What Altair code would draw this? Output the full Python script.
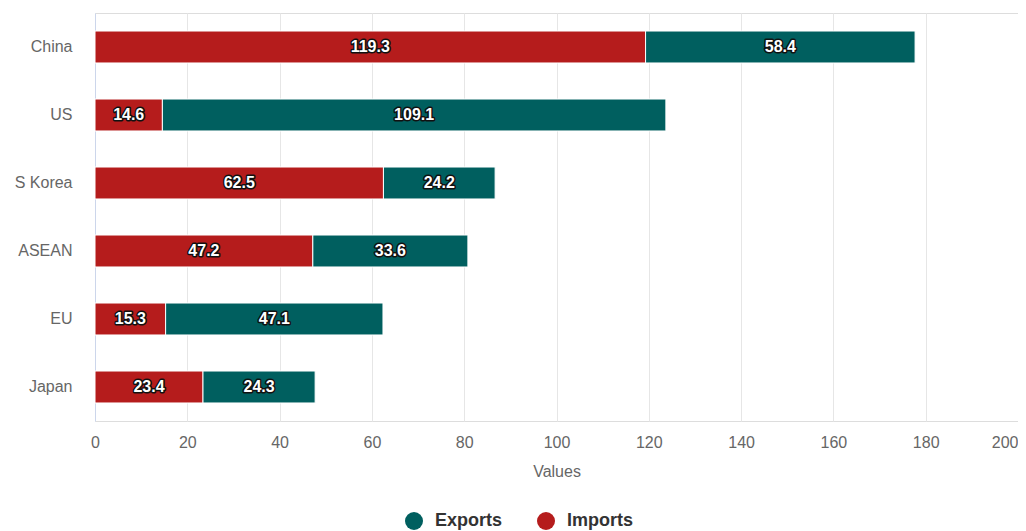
import altair as alt
import pandas as pd

countries = ["China", "US", "S Korea", "ASEAN", "EU", "Japan"]
imports = [119.3, 14.6, 62.5, 47.2, 15.3, 23.4]
exports = [58.4, 109.1, 24.2, 33.6, 47.1, 24.3]
legend_order = ["Exports", "Imports"]
colors = ["#005f5f", "#b51c1c"]
x_ticks = [0, 20, 40, 60, 80, 100, 120, 140, 160, 180, 200]

rows = []
for c, im, ex in zip(countries, imports, exports):
    rows.append({"country": c, "series": "Imports", "value": im, "ord": 0})
    rows.append({"country": c, "series": "Exports", "value": ex, "ord": 1})
df = pd.DataFrame(rows)

FONT = "Liberation Sans"

y_enc = alt.Y(
    "country:N",
    sort=countries,
    title=None,
    scale=alt.Scale(paddingInner=0.53, paddingOuter=0.265),
    axis=alt.Axis(
        domain=True, domainColor="#ccd6eb", domainWidth=1,
        ticks=False, tickSize=0, grid=False,
        labelPadding=23, labelFontSize=16, labelColor="#666666", labelFont=FONT,
    ),
)

x_scale = alt.Scale(domain=[0, 200], nice=False)

base = alt.Chart(df)

bars = base.mark_bar(stroke="white", strokeWidth=1).encode(
    x=alt.X(
        "value:Q",
        stack="zero",
        scale=x_scale,
        axis=alt.Axis(
            values=x_ticks, title="Values", domain=False, ticks=False, tickSize=0,
            grid=True, gridColor="#e6e6e6", gridWidth=1,
            labelPadding=13, labelFontSize=16, labelColor="#666666", labelFont=FONT,
            labelAlign=alt.ConditionalAxisLabelAlign(
                condition={"test": "datum.value == 200", "value": "right"}, value="center"
            ),
            titleFontSize=16, titleColor="#666666", titleFontWeight="normal",
            titleFont=FONT, titlePadding=13,
        ),
    ),
    y=y_enc,
    color=alt.Color(
        "series:N",
        scale=alt.Scale(domain=legend_order, range=colors),
        legend=alt.Legend(
            title=None, orient="none", legendX=310, legendY=499,
            direction="horizontal", symbolType="circle", symbolSize=324,
            symbolStrokeWidth=0, labelFontSize=18, labelFontWeight="bold",
            labelColor="#333333", labelFont=FONT, columnPadding=34, labelOffset=12,
        ),
    ),
    order=alt.Order("ord:Q"),
)

txt_base = base.transform_window(
    cum="sum(value)", groupby=["country"], sort=[alt.SortField("ord")], frame=[None, 0]
).transform_calculate(mid="datum.cum - datum.value / 2")

outline = txt_base.mark_text(
    font=FONT, fontSize=16, fontWeight="bold", fill="#111111",
    stroke="#111111", strokeWidth=3, strokeJoin="round", baseline="middle", align="center",
).encode(
    x=alt.X("mid:Q", scale=x_scale),
    y=alt.Y("country:N", sort=countries),
    text=alt.Text("value:Q", format=".1f"),
)

labels = txt_base.mark_text(
    font=FONT, fontSize=16, fontWeight="bold", fill="white",
    baseline="middle", align="center",
).encode(
    x=alt.X("mid:Q", scale=x_scale),
    y=alt.Y("country:N", sort=countries),
    text=alt.Text("value:Q", format=".1f"),
)

chart = alt.layer(bars, outline, labels).properties(
    width=923, height=408,
    autosize=alt.AutoSizeParams(type="none"),
    padding={"left": 87, "top": 5, "right": 0, "bottom": 110},
).configure_view(stroke=None).configure(font=FONT)

chart.save("out.html", embed_options={"renderer": "svg", "actions": False})
